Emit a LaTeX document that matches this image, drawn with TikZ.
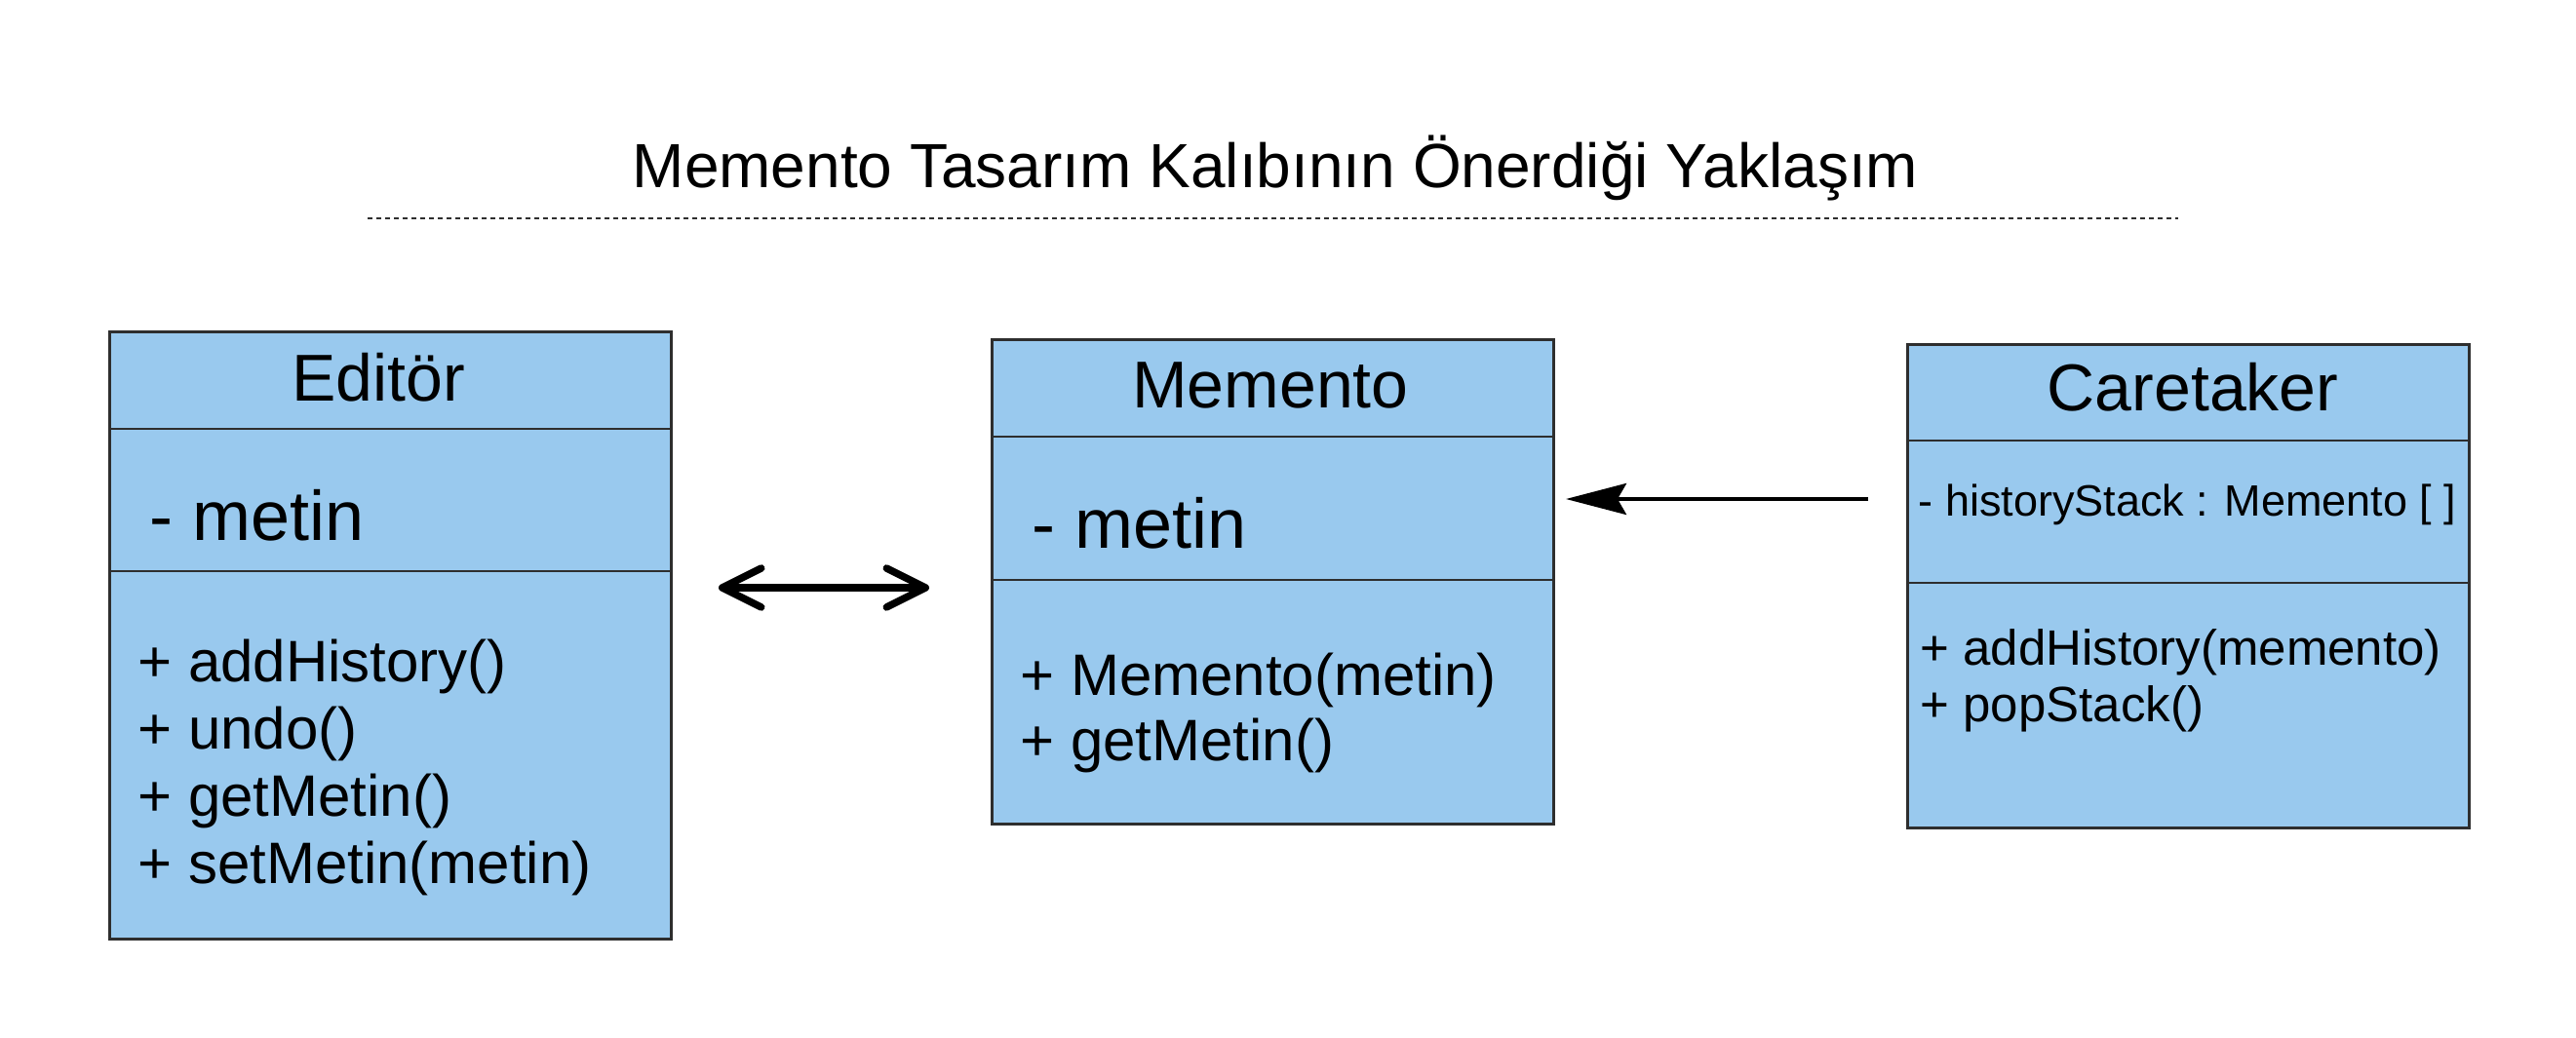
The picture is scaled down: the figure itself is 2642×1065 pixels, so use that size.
\documentclass[tikz,border=0pt]{standalone}
\usepackage{fontspec}
\setmainfont{Liberation Sans}
\usetikzlibrary{arrows.meta}
\definecolor{boxfill}{HTML}{99C9EE}
\definecolor{boxline}{HTML}{2E2E2E}
\begin{document}
\begin{tikzpicture}[x=1pt,y=-1pt,
  cls/.style={draw=boxline, fill=boxfill, line width=2.8pt, minimum width=576pt, inner sep=0pt, anchor=north west},
  divider/.style={draw=boxline, line width=2.8pt},
  ctitle/.style={anchor=base, font=\fontsize{68}{78}\selectfont},
  attr/.style={anchor=base west, font=\fontsize{72}{82}\selectfont},
  meth/.style={anchor=base west, font=\fontsize{60}{69}\selectfont},
  smalltxt/.style={anchor=base west, font=\fontsize{45}{52}\selectfont},
  smallmeth/.style={anchor=base west, font=\fontsize{51}{59}\selectfont},
  dbl/.style={line width=7.5pt, {Straight Barb[length=40pt,width=40pt,round]}-{Straight Barb[length=40pt,width=40pt,round]}},
  sgl/.style={line width=4pt, -{Stealth[length=62pt,width=32pt,inset=9pt]}}
]
\useasboundingbox (0,0) rectangle (2642,1065);
\fill[white] (0,0) rectangle (2642,1065);

% title
\node[anchor=base, font=\fontsize{64}{74}\selectfont] (title) at (1308,192) {Memento Tasarım Kalıbının Önerdiği Yaklaşım};
\coordinate (d1) at (377,224);
\coordinate (d2) at (2234,224);
\draw[boxline, line width=2.6pt, dash pattern=on 5pt off 4pt] (d1) -- (d2);

% Editor
\node[cls, minimum height=623pt] (editor) at (111,339) {};
\draw[divider] (111,440) -- (687,440);
\draw[divider] (111,586) -- (687,586);
\node[ctitle] (edtitle) at (388,411) {Editör};
\node[attr] (edattr) at (150,554) {- metin};
\node[meth] (edm1) at (138,699) {+ addHistory()};
\node[meth] (edm2) at (138,768) {+ undo()};
\node[meth] (edm3) at (138,837) {+ getMetin()};
\node[meth] (edm4) at (138,906) {+ setMetin(metin)};

% Memento
\node[cls, minimum height=497pt] (memento) at (1016,347) {};
\draw[divider] (1016,448) -- (1592,448);
\draw[divider] (1016,595) -- (1592,595);
\node[ctitle] (memtitle) at (1303,418) {Memento};
\node[attr] (memattr) at (1055,562) {- metin};
\node[meth] (memm1) at (1043,713) {+ Memento(metin)};
\node[meth] (memm2) at (1043,780) {+ getMetin()};

% Caretaker
\node[cls, minimum height=496pt] (caretaker) at (1955,352) {};
\draw[divider] (1955,452) -- (2531,452);
\draw[divider] (1955,598) -- (2531,598);
\node[ctitle] (cttitle) at (2249,421) {Caretaker};
\node[smalltxt] (ctattr) at (1964,529) {- historyStack : Memento [ ]};
\node[smallmeth] (ctm1) at (1966,682) {+ addHistory(memento)};
\node[smallmeth] (ctm2) at (1966,740) {+ popStack()};

% connectors
\coordinate (a1) at (737,603);
\coordinate (a2) at (953,603);
\draw[dbl] (a1) -- (a2);
\coordinate (b1) at (1916,512);
\coordinate (b2) at (1606,512);
\draw[sgl] (b1) -- (b2);
\end{tikzpicture}
\end{document}
